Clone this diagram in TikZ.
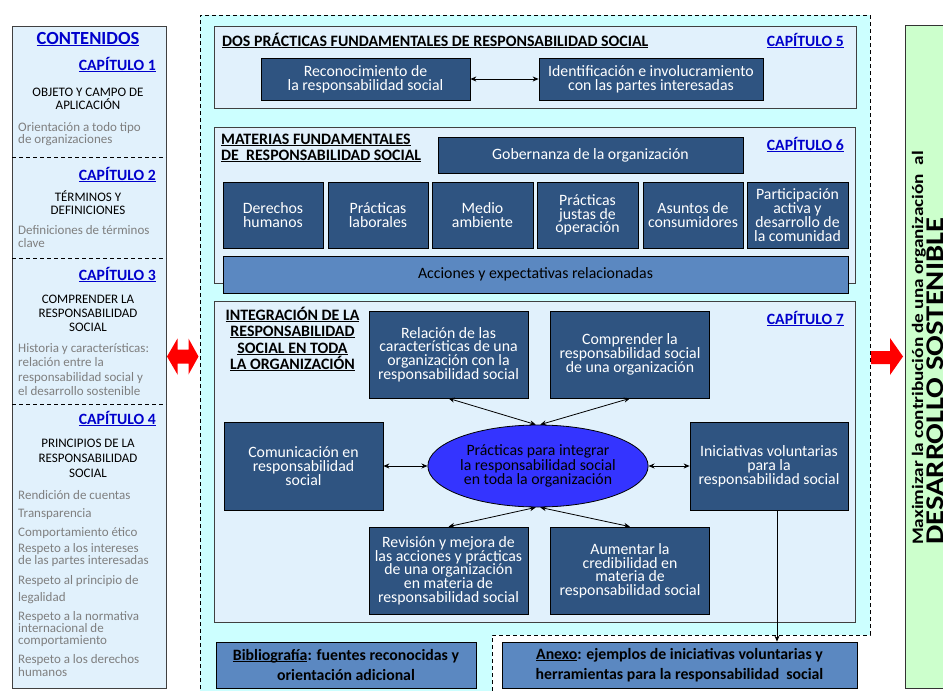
\documentclass[tikz,border=0pt]{standalone}
\usepackage{fontspec}
\setmainfont{Carlito}
% stretched face for the vertical goal text
\newfontfamily\longfont[FakeStretch=1.2]{Carlito}
\usetikzlibrary{arrows.meta,shapes.geometric}

\definecolor{navy}{HTML}{2F5481}
\definecolor{midblue}{HTML}{5B88C1}
\definecolor{panelblue}{HTML}{E1F1FC}
\definecolor{cyanbg}{HTML}{CCFFFF}
\definecolor{ovalblue}{HTML}{3434FF}
\definecolor{greenbg}{HTML}{CCFFCC}
\definecolor{linkblue}{HTML}{0000CC}
\definecolor{greytext}{HTML}{7F7F7F}

% underline drawn just under the baseline
\newcommand\ulin[1]{\setbox0\hbox{#1}\rlap{\rule[-1.7pt]{\wd0}{0.9pt}}\box0}
% invisible strut fixing the height of a first line (value in pt)
\newcommand\lnstrut[1]{\rule{0pt}{#1pt}}

\tikzset{
  navybox/.style={draw=black, line width=0.7pt, fill=navy, text=white, align=center,
    inner sep=0pt, font=\fontsize{15.8}{13.8}\selectfont},
  midbox/.style={draw=black, line width=0.7pt, fill=midblue, text=black, align=center,
    inner sep=0pt},
  panelbox/.style={draw=black!75, line width=0.9pt, fill=panelblue},
  chap/.style={anchor=base east, inner sep=0pt, text=linkblue,
    font=\fontsize{15.7}{16}\selectfont\bfseries},
  headtxt/.style={inner sep=0pt, font=\fontsize{15.9}{16.5}\selectfont\bfseries},
  toctxt/.style={inner sep=0pt, font=\fontsize{13}{13.5}\selectfont},
  tocgrey/.style={toctxt, text=greytext, align=left, anchor=north west},
  tochead/.style={toctxt, align=center, anchor=north},
  bothway/.style={{Stealth[length=6pt,width=5pt]}-{Stealth[length=6pt,width=5pt]}, line width=0.8pt},
  oneway/.style={-{Stealth[length=6pt,width=5pt]}, line width=0.8pt},
  tocsep/.style={dash pattern=on 4pt off 3pt, line width=0.9pt},
}

\begin{document}
\begin{tikzpicture}[x=1pt,y=-1pt]
\useasboundingbox (0,0) rectangle (943,691);
\fill[white] (0,0) rectangle (943,691);

% ---------------- contents column ----------------
\draw[panelbox] (12,26) rectangle (166,688);
\draw[tocsep] (12,157) -- (166,157);
\draw[tocsep] (12,258) -- (166,258);
\draw[tocsep] (12,404) -- (166,404);

\node[anchor=base, inner sep=0pt, text=linkblue, font=\fontsize{18.5}{19}\selectfont\bfseries]
  (toc) at (88,44) {\ulin{CONTENIDOS}};

\node[chap] (ch1) at (156,70) {\ulin{CAPÍTULO 1}};
\node[tochead] (ch1t) at (88,85) {\lnstrut{11}OBJETO Y CAMPO DE\\APLICACIÓN};
\node[tocgrey, font=\fontsize{13}{12.5}\selectfont] (ch1d) at (18,120)
  {\lnstrut{11}Orientación a todo tipo\\de organizaciones};

\node[chap] (ch2) at (156,180) {\ulin{CAPÍTULO 2}};
\node[tochead] (ch2t) at (88,190) {\lnstrut{11}TÉRMINOS Y\\DEFINICIONES};
\node[tocgrey, font=\fontsize{13}{13}\selectfont] (ch2d) at (18,223)
  {\lnstrut{11}Definiciones de términos\\clave};

\node[chap] (ch3) at (156,280) {\ulin{CAPÍTULO 3}};
\node[tochead, font=\fontsize{13}{14}\selectfont] (ch3t) at (88,292)
  {\lnstrut{11}COMPRENDER LA\\RESPONSABILIDAD\\SOCIAL};
\node[tocgrey, font=\fontsize{13}{14.5}\selectfont] (ch3d) at (18,341)
  {\lnstrut{11}Historia y características:\\relación entre la\\responsabilidad social y\\el desarrollo sostenible};

\node[chap] (ch4) at (156,424) {\ulin{CAPÍTULO 4}};
\node[tochead, font=\fontsize{13}{15}\selectfont] (ch4t) at (88,436.5)
  {\lnstrut{11}PRINCIPIOS DE LA\\RESPONSABILIDAD\\SOCIAL};
\node[toctxt, text=greytext, anchor=base west] (p1) at (18,499) {Rendición de cuentas};
\node[toctxt, text=greytext, anchor=base west] (p2) at (18,517) {Transparencia};
\node[toctxt, text=greytext, anchor=base west] (p3) at (18,536) {Comportamiento ético};
\node[tocgrey, font=\fontsize{13}{12}\selectfont] (p4) at (18,541)
  {\lnstrut{11}Respeto a los intereses\\de las partes interesadas};
\node[tocgrey, font=\fontsize{13}{17}\selectfont] (p5) at (18,573)
  {\lnstrut{11}Respeto al principio de\\legalidad};
\node[tocgrey, font=\fontsize{13}{12}\selectfont] (p6) at (18,609)
  {\lnstrut{11}Respeto a la normativa\\internacional de\\comportamiento};
\node[tocgrey, font=\fontsize{13}{13}\selectfont] (p7) at (18,652)
  {\lnstrut{11}Respeto a los derechos\\humanos};

% red arrows between the columns
\fill[red] (167,356.5) -- (177.5,338.5) -- (177.5,349.5) -- (188.5,349.5) -- (188.5,338.5)
  -- (198.5,356.5) -- (188.5,374.5) -- (188.5,363.5) -- (177.5,363.5) -- (177.5,374.5) -- cycle;
\fill[red] (871,351) -- (890,351) -- (890,338) -- (903,356.5) -- (890,375)
  -- (890,364) -- (871,364) -- cycle;

% ---------------- main area ----------------
\fill[cyanbg] (200,15) -- (870,15) -- (870,635) -- (492,635) -- (492,691) -- (200,691) -- cycle;
\draw[tocsep] (492,691) -- (492,635) -- (870,635) -- (870,15) -- (200,15) -- (200,691);

% chapter 5
\draw[panelbox] (214,26) rectangle (856,108);
\node[headtxt, anchor=base west] (h5) at (222,46.5)
  {\ulin{DOS PRÁCTICAS FUNDAMENTALES DE RESPONSABILIDAD SOCIAL}};
\node[chap] (ch5) at (844,46.5) {\ulin{CAPÍTULO 5}};
\node[navybox, minimum width=209pt, minimum height=42pt] (rec) at (365.5,79)
  {Reconocimiento de\\la responsabilidad social};
\node[navybox, minimum width=224pt, minimum height=42pt] (idf) at (651,79)
  {Identificación e involucramiento\\con las partes interesadas};
\draw[bothway] (rec.east) -- (idf.west);

% chapter 6
\draw[panelbox] (214,127) rectangle (855,283);
\node[headtxt, anchor=north west, align=left, font=\fontsize{15.9}{16}\selectfont\bfseries]
  (h6) at (221,133) {\lnstrut{11}\ulin{MATERIAS FUNDAMENTALES}\\\ulin{DE\ \ RESPONSABILIDAD SOCIAL}};
\node[chap] (ch6) at (844,150) {\ulin{CAPÍTULO 6}};
\node[navybox, minimum width=305pt, minimum height=36pt] (gob) at (590.5,155)
  {Gobernanza de la organización};
\node[navybox, minimum width=100pt, minimum height=66pt] (dh) at (273,215) {Derechos\\humanos};
\node[navybox, minimum width=100pt, minimum height=66pt] (pl) at (378,215) {Prácticas\\laborales};
\node[navybox, minimum width=101pt, minimum height=66pt] (ma) at (482.5,215) {Medio\\ambiente};
\node[navybox, minimum width=101pt, minimum height=66pt] (pj) at (587.5,215) {Prácticas\\justas de\\operación};
\node[navybox, minimum width=100pt, minimum height=66pt] (ac) at (693,215) {Asuntos de\\consumidores};
\node[navybox, minimum width=101pt, minimum height=66pt] (pc) at (797.5,215)
  {Participación\\activa y\\desarrollo de\\la comunidad};
\node[midbox, minimum width=625pt, minimum height=37pt, font=\fontsize{15.8}{14}\selectfont]
  (acc) at (535.5,274.5) {Acciones y expectativas relacionadas};

% chapter 7
\draw[panelbox] (214,301) rectangle (855,622);
\node[headtxt, anchor=north, align=center] (h7) at (292.5,306.5)
  {\lnstrut{12.5}\ulin{INTEGRACIÓN DE LA}\\\ulin{RESPONSABILIDAD}\\\ulin{SOCIAL EN TODA}\\\ulin{LA ORGANIZACIÓN}};
\node[chap] (ch7) at (844,324) {\ulin{CAPÍTULO 7}};

\node[navybox, minimum width=159pt, minimum height=87pt] (rel) at (448.5,354.5)
  {Relación de las\\características de una\\organización con la\\responsabilidad social};
\node[navybox, minimum width=159pt, minimum height=87pt] (comp) at (630,354.5)
  {Comprender la\\responsabilidad social\\de una organización};
\node[navybox, minimum width=159pt, minimum height=88pt] (comm) at (303.5,466)
  {Comunicación en\\responsabilidad\\social};
\node[ellipse, draw=black, line width=0.8pt, fill=ovalblue, text=black, align=center,
  inner sep=0pt, minimum width=212pt, minimum height=82pt,
  font=\fontsize{15.8}{14.5}\selectfont] (core) at (538,466)
  {Prácticas para integrar\\la responsabilidad social\\en toda la organización};
\node[navybox, minimum width=158pt, minimum height=88pt] (ini) at (769,466)
  {Iniciativas voluntarias\\para la\\responsabilidad social};
\node[navybox, minimum width=159pt, minimum height=87.5pt] (rev) at (448.5,570.75)
  {Revisión y mejora de\\las acciones y prácticas\\de una organización\\en materia de\\responsabilidad social};
\node[navybox, minimum width=159pt, minimum height=87.5pt] (aum) at (630,570.75)
  {Aumentar la\\credibilidad en\\materia de\\responsabilidad social};

\draw[bothway] (core.93) -- (rel.south);
\draw[bothway] (core.87) -- (comp.south);
\draw[bothway] (core.267) -- (rev.north);
\draw[bothway] (core.273) -- (aum.north);
\draw[bothway] (comm.east) -- (core.west);
\draw[bothway] (core.east) -- (ini.west);

% annexes
\node[midbox, minimum width=260pt, minimum height=46pt, font=\fontsize{15.8}{20}\selectfont\bfseries]
  (bib) at (346,665) {\ulin{Bibliografía}: fuentes reconocidas y\\orientación adicional};
\node[midbox, minimum width=355pt, minimum height=46pt, font=\fontsize{15.8}{20}\selectfont\bfseries]
  (anx) at (679.5,665) {\ulin{Anexo}: ejemplos de iniciativas voluntarias y\\herramientas para la responsabilidad\ \ social};
\coordinate (iniFoot) at (777,510);
\draw[oneway] (iniFoot) -- (iniFoot |- anx.north);

% ---------------- goal column ----------------
\draw[fill=greenbg, draw=black!80, line width=0.9pt] (905,25) rectangle (950,688);
\node[rotate=90, anchor=base west, inner sep=0pt, font=\longfont\fontsize{16}{16}\selectfont\bfseries]
  (goal) at (923,545) {Maximizar la contribución de una organización\ \ al};
\node[rotate=90, anchor=base west, inner sep=0pt, font=\longfont\fontsize{25.5}{26}\selectfont\bfseries]
  (sd) at (943,545) {DESARROLLO SOSTENIBLE};
\end{tikzpicture}
\end{document}
